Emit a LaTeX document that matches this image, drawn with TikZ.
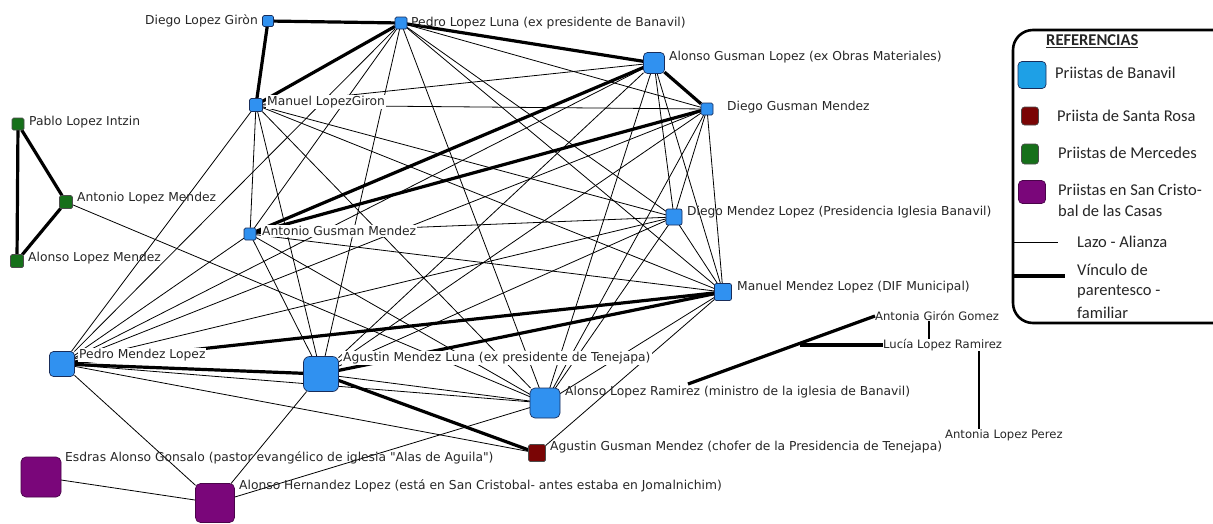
\documentclass[tikz,border=0pt]{standalone}
\usepackage{fontspec}
\setmainfont{DejaVu Sans}
\newfontfamily\lblfont{DejaVu Sans}
\newfontfamily\legfont{Carlito}
\usetikzlibrary{backgrounds}
\definecolor{nblue}{RGB}{48,145,240}
\definecolor{lblue}{RGB}{30,160,230}
\definecolor{nred}{RGB}{122,5,5}
\definecolor{ngreen}{RGB}{22,112,26}
\definecolor{npurp}{RGB}{122,6,122}
\definecolor{nedge}{RGB}{25,45,90}
\begin{document}
\begin{tikzpicture}[x=1pt,y=-1pt,
  base/.style={draw=nedge, line width=0.7pt, rounded corners=1.5pt, inner sep=0pt, outer sep=0pt},
  bn/.style={base, fill=nblue},
  bnb/.style={base, fill=nblue, rounded corners=4pt},
  rn/.style={base, fill=nred, draw=black!70},
  gn/.style={base, fill=ngreen, draw=black!70},
  pn/.style={base, fill=npurp, draw=npurp!60!black, rounded corners=5pt},
  lab/.style={anchor=west, inner sep=0pt, font=\lblfont\fontsize{12.3}{14}\selectfont, text=black!85},
  labw/.style={lab, fill=white, inner sep=1pt},
  slab/.style={anchor=west, inner sep=0pt, font=\lblfont\fontsize{11.6}{13}\selectfont, text=black!85},
  leg/.style={anchor=west, inner sep=0pt, font=\legfont\fontsize{16.5}{19}\selectfont, text=black!85},
  lazo/.style={line width=0.8pt},
  kin/.style={line width=3.2pt},
]
\useasboundingbox (0,0) rectangle (1213,523);

% ---- nodes ----
\node[bn, minimum size=11pt] (dlg) at (268,21) {};
\node[bn, minimum size=12pt] (pll) at (401,23) {};
\node[bnb, minimum size=21pt] (agl) at (654,63) {};
\node[bn, minimum size=12pt] (dgm) at (707,109) {};
\node[bn, minimum size=13pt] (mlg) at (256,105) {};
\node[bn, minimum size=12pt] (agm) at (250,234) {};
\node[bn, minimum size=16pt, rounded corners=2pt] (dml) at (674,217) {};
\node[bn, minimum size=17pt, rounded corners=2pt] (mml) at (723,292) {};
\node[bnb, minimum size=25pt] (pml) at (62,364) {};
\node[bnb, minimum size=35pt, rounded corners=6pt] (aml) at (321,374) {};
\node[bnb, minimum size=30pt, rounded corners=5pt] (alr) at (545,403) {};
\node[rn, minimum size=17pt] (agc) at (537,453) {};
\node[pn, minimum size=40pt] (eag) at (41,477) {};
\node[pn, minimum size=39pt] (ahl) at (215,503) {};
\node[gn, minimum size=12pt] (pli) at (18,124) {};
\node[gn, minimum size=13pt] (alma) at (66,202) {};
\node[gn, minimum size=13pt] (almb) at (17,261) {};

% ---- labels ----
\node[lab, anchor=east] (tdlg) at (258,21) {Diego Lopez Giròn};
\node[lab] (tpll) at (411,23) {Pedro Lopez Luna (ex presidente de Banavil)};
\node[lab] (tagl) at (669,57) {Alonso Gusman Lopez (ex Obras Materiales)};
\node[lab] (tdgm) at (727,107) {Diego Gusman Mendez};
\node[labw] (tmlg) at (266,102) {Manuel LopezGiron};
\node[lab] (tpli) at (29,122) {Pablo Lopez Intzin};
\node[lab] (talma) at (77,198) {Antonio Lopez Mendez};
\node[lab] (talmb) at (28,258) {Alonso Lopez Mendez};
\node[labw] (tagm) at (261,231) {Antonio Gusman Mendez};
\node[lab] (tdml) at (687,212) {Diego Mendez Lopez (Presidencia Iglesia Banavil)};
\node[lab] (tmml) at (737,287) {Manuel Mendez Lopez (DIF Municipal)};
\node[labw] (tpml) at (78,355) {Pedro Mendez Lopez};
\node[labw] (taml) at (342,358) {Agustin Mendez Luna (ex presidente de Tenejapa)};
\node[lab] (talr) at (565,392) {Alonso Lopez Ramirez (ministro de la iglesia de Banavil)};
\node[lab] (tagc) at (550,447) {Agustin Gusman Mendez (chofer de la Presidencia de Tenejapa)};
\node[lab] (teag) at (65,458) {Esdras Alonso Gonsalo (pastor evangélico de iglesia "Alas de Aguila")};
\node[lab] (tahl) at (239,486) {Alonso Hernandez Lopez (está en San Cristobal- antes estaba en Jomalnichim)};

% ---- family group on the right ----
\node[slab] (agg) at (875,316) {Antonia Girón Gomez};
\node[slab] (llr) at (883,345) {Lucía Lopez Ramirez};
\node[slab] (alp) at (945,435) {Antonia Lopez Perez};
\coordinate (fa) at (688,384);
\coordinate (fb) at (800,345);
\coordinate (fv) at (979,0);
\coordinate (fg) at (929,0);
\draw[kin] (fa) -- (agg.west);
\draw[kin] (fb) -- (llr.west);
\draw[line width=2.2pt] (agg.south -| fg) -- (llr.north -| fg);
\draw[line width=2.8pt] (llr.south -| fv) -- (alp.north -| fv);

% ---- legend ----
\draw[line width=2.6pt, rounded corners=20pt] (1240,30) -- (1013,30) -- (1013,323) -- (1240,323);
\node[anchor=west, inner sep=0pt, font=\legfont\bfseries\fontsize{16.5}{19}\selectfont, text=black!85] (lref) at (1046,41) {\underline{REFERENCIAS}};
\node[base, fill=lblue, rounded corners=4pt, minimum width=28pt, minimum height=27pt] (lb) at (1032,75) {};
\node[leg] (tlb) at (1055,73) {Priistas de Banavil};
\node[rn, rounded corners=3pt, minimum width=17pt, minimum height=18pt] (lr) at (1030,116) {};
\node[leg] (tlr) at (1057,116) {Priista de Santa Rosa};
\node[gn, rounded corners=3pt, minimum width=17pt, minimum height=20pt] (lg) at (1030,154) {};
\node[leg] (tlg) at (1058,153) {Priistas de Mercedes};
\node[pn, rounded corners=4pt, minimum width=27pt, minimum height=23pt] (lp) at (1032,192) {};
\node[leg] (tlp1) at (1058,190) {Priistas en San Cristo-};
\node[leg] (tlp2) at (1058,211) {bal de las Casas};
\coordinate (la) at (1013,242);
\coordinate (lk) at (1013,276);
\node[leg] (tla) at (1077,242) {Lazo - Alianza};
\node[leg] (tlk1) at (1077,270) {Vínculo de};
\node[leg] (tlk2) at (1077,292) {parentesco -};
\node[leg] (tlk3) at (1077,313) {familiar};
\draw[lazo] (la) -- ++(45,0) coordinate (la2);
\draw[kin] (lk) -- ++(52,0) coordinate (lk2);

% ---- edges ----
\begin{pgfonlayer}{background}
\fill[white] (0,0) rectangle (1213,523);
\foreach \a/\b in {pll/dgm, pll/agm, pll/dml, pll/mml, pll/pml, pll/aml, pll/alr,
  agl/mlg, agl/dml, agl/mml, agl/pml, agl/aml, agl/alr,
  dgm/mlg, dgm/dml, dgm/mml, dgm/pml, dgm/aml, dgm/alr,
  mlg/agm, mlg/dml, mlg/mml, mlg/pml, mlg/aml, mlg/alr,
  agm/dml, agm/mml, agm/pml, agm/aml, agm/alr,
  dml/mml, dml/pml, dml/aml, dml/alr,
  mml/alr, pml/alr, aml/alr,
  pml/agc, mml/agc, alma/alr, eag/ahl, pml/ahl, aml/ahl, alr/ahl}
  \draw[lazo] (\a) -- (\b);
\foreach \a/\b in {dlg/pll, dlg/mlg, pll/mlg, pll/agl, agl/dgm, agl/agm, dgm/agm,
  mml/pml, mml/aml, pml/aml, aml/agc, pli/alma, pli/almb, alma/almb}
  \draw[kin] (\a) -- (\b);
\end{pgfonlayer}
\end{tikzpicture}
\end{document}
